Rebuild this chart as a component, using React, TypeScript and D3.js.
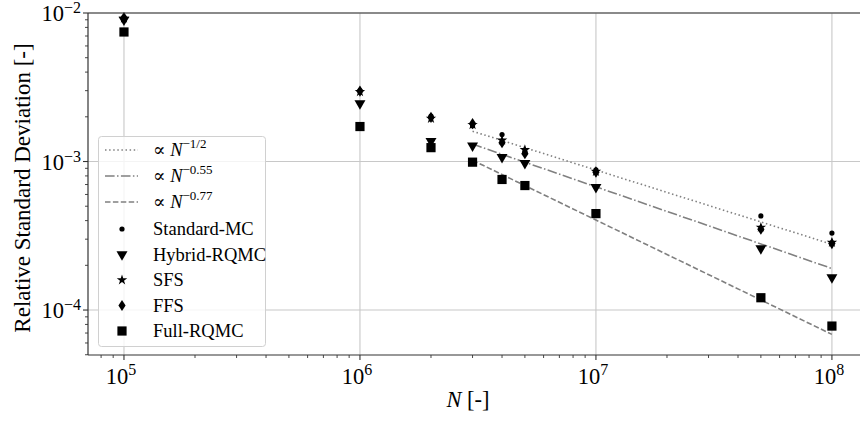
import React from "react";
import * as d3 from "d3";

// ---- data ----
const sampleSizes = [1e5, 1e6, 2e6, 3e6, 4e6, 5e6, 1e7, 5e7, 1e8];
const standardMC = [9.4e-3, 3.0e-3, 2.02e-3, 1.74e-3, 1.52e-3, 1.17e-3, 0.88e-3, 4.3e-4, 3.3e-4];
const hybridRQMC = [9.0e-3, 2.46e-3, 1.37e-3, 1.28e-3, 1.07e-3, 0.974e-3, 0.671e-3, 2.6e-4, 1.66e-4];
const sfs = [9.2e-3, 2.95e-3, 1.95e-3, 1.77e-3, 1.39e-3, 1.2e-3, 0.856e-3, 3.6e-4, 2.85e-4];
const ffs = [9.3e-3, 2.98e-3, 1.98e-3, 1.8e-3, 1.34e-3, 1.13e-3, 0.847e-3, 3.5e-4, 2.8e-4];
const fullRQMC = [7.45e-3, 1.72e-3, 1.24e-3, 0.99e-3, 0.757e-3, 0.689e-3, 0.446e-3, 1.21e-4, 7.8e-5];

// reference power laws  c * N^-a  over [3e6, 1e8]
const refRange = [3e6, 1e8];
const refStartValues = [1.6e-3, 1.31e-3, 1.02e-3];
const refExponents = [0.5, 0.55, 0.77];
const refExpLabels = ["\u22121/2", "\u22120.55", "\u22120.77"];
const refDash = ["1.5,2.6", "9.6,2.4,1.5,2.4", "5.5,2.4"];

const seriesNames = ["Standard-MC", "Hybrid-RQMC", "SFS", "FFS", "Full-RQMC"];
const seriesValues = [standardMC, hybridRQMC, sfs, ffs, fullRQMC];
const seriesMarkers = ["dot", "tri", "star", "thin", "square"];

const xMajor = [1e5, 1e6, 1e7, 1e8];
const xMajorExp = ["5", "6", "7", "8"];
const yMajor = [1e-4, 1e-3, 1e-2];
const yMajorExp = ["\u22124", "\u22123", "\u22122"];

const FONT = "'Liberation Serif', 'DejaVu Serif', serif";

function Marker({ kind, x, y }: { kind: string; x: number; y: number }) {
  if (kind === "dot") return <circle cx={x} cy={y} r={2.6} fill="#000" />;
  if (kind === "square") return <rect x={x - 4.6} y={y - 4.6} width={9.2} height={9.2} fill="#000" />;
  if (kind === "tri") {
    const p = d3.symbol(d3.symbolTriangle, 52)()!;
    return <path d={p} transform={`translate(${x},${y}) rotate(180)`} fill="#000" />;
  }
  if (kind === "star") {
    const p = d3.symbol(d3.symbolStar, 34)()!;
    return <path d={p} transform={`translate(${x},${y})`} fill="#000" />;
  }
  // thin diamond
  return <path d={`M${x},${y - 5.6}L${x + 3.6},${y}L${x},${y + 5.6}L${x - 3.6},${y}Z`} fill="#000" />;
}

export default function App() {
  const L = 88, T = 13, B = 355, R = 870;
  const x = d3.scaleLog().domain([7.04e4, 1.45e8]).range([L, R]);
  const y = d3.scaleLog().domain([4.98e-5, 1e-2]).range([B, T]);

  const xMinor: number[] = [];
  for (let e = 4; e <= 8; e++) for (let k = 2; k <= 9; k++) {
    const v = k * Math.pow(10, e);
    if (v >= 7.04e4 && v <= 1.45e8) xMinor.push(v);
  }
  const yMinor: number[] = [];
  for (let e = -5; e <= -3; e++) for (let k = 2; k <= 9; k++) {
    const v = k * Math.pow(10, e);
    if (v >= 4.98e-5 && v <= 1e-2) yMinor.push(v);
  }

  const refPath = (j: number) =>
    d3.line<number>()
      .x((n) => x(n))
      .y((n) => y(refStartValues[j] * Math.pow(n / refRange[0], -refExponents[j])))(refRange)!;

  const spine = "#333";
  const grid = "#c8c8c8";

  // legend
  const lgX = 98.5, lgY = 136.5, lgW = 167, lgH = 210;
  const rowY = [150, 176, 202, 229, 254.5, 280, 305.5, 331];

  return (
    <svg width={860} height={421} style={{ position: "absolute", left: 0, top: 0, background: "#fff" }}
      fontFamily={FONT}>
      <rect x={0} y={0} width={860} height={421} fill="#fff" />
      {/* grid */}
      {xMajor.map((v) => (
        <line key={"gx" + v} x1={x(v)} x2={x(v)} y1={T} y2={B} stroke={grid} strokeWidth={1.1} />
      ))}
      {yMajor.map((v) => (
        <line key={"gy" + v} x1={L} x2={R} y1={y(v)} y2={y(v)} stroke={grid} strokeWidth={1.1} />
      ))}

      {/* reference lines */}
      {refStartValues.map((_, j) => (
        <path key={"ref" + j} d={refPath(j)} fill="none" stroke="#808080" strokeWidth={1.6}
          strokeDasharray={refDash[j]} />
      ))}

      {/* series */}
      {seriesValues.map((vals, s) =>
        vals.map((v, i) => (
          <Marker key={s + "-" + i} kind={seriesMarkers[s]} x={x(sampleSizes[i])} y={y(v)} />
        ))
      )}

      {/* spines */}
      <line x1={L} x2={L} y1={T} y2={B} stroke={spine} strokeWidth={1.2} />
      <line x1={L} x2={R} y1={B} y2={B} stroke={spine} strokeWidth={1.2} />
      <line x1={L} x2={R} y1={T} y2={T} stroke={spine} strokeWidth={1.2} />

      {/* x ticks */}
      {xMajor.map((v, i) => (
        <g key={"xt" + v}>
          <line x1={x(v)} x2={x(v)} y1={B} y2={B + 5} stroke={spine} strokeWidth={1.1} />
          <text x={x(v) - 3} y={384} textAnchor="middle" fontSize={22.5} fill="#000">
            10<tspan dy={-9} fontSize={16}>{xMajorExp[i]}</tspan>
          </text>
        </g>
      ))}
      {xMinor.map((v) => (
        <line key={"xm" + v} x1={x(v)} x2={x(v)} y1={B} y2={B + 3} stroke={spine} strokeWidth={0.9} />
      ))}

      {/* y ticks */}
      {yMajor.map((v, i) => (
        <g key={"yt" + v}>
          <line x1={L - 5} x2={L} y1={y(v)} y2={y(v)} stroke={spine} strokeWidth={1.1} />
          <text x={81} y={y(v) + 8} textAnchor="end" fontSize={22.5} fill="#000">
            10<tspan dy={-8} fontSize={16}>{yMajorExp[i]}</tspan>
          </text>
        </g>
      ))}
      {yMinor.map((v) => (
        <line key={"ym" + v} x1={L - 3} x2={L} y1={y(v)} y2={y(v)} stroke={spine} strokeWidth={0.9} />
      ))}

      {/* axis labels */}
      <text x={468} y={407} textAnchor="middle" fontSize={22.5} fill="#000">
        <tspan fontStyle="italic">N</tspan> [-]
      </text>
      <text transform={`translate(30,188) rotate(-90)`} textAnchor="middle" fontSize={23} fill="#000">
        Relative Standard Deviation [-]
      </text>

      {/* legend */}
      <rect x={lgX} y={lgY} width={lgW} height={lgH} rx={3} fill="#fff" fillOpacity={0.8} stroke="#d0d0d0" strokeWidth={1} />
      {refStartValues.map((_, j) => (
        <g key={"lr" + j}>
          <line x1={105} x2={138} y1={rowY[j]} y2={rowY[j]} stroke="#808080" strokeWidth={1.6} strokeDasharray={refDash[j]} />
          <text x={153} y={rowY[j] + 6} fontSize={18.5} fill="#000">
            {"\u221D "}<tspan fontStyle="italic">N</tspan>
            <tspan dy={-8} fontSize={13}>{refExpLabels[j]}</tspan>
          </text>
        </g>
      ))}
      {seriesNames.map((name, s) => (
        <g key={"ls" + s}>
          <Marker kind={seriesMarkers[s]} x={122} y={rowY[s + 3]} />
          <text x={153} y={rowY[s + 3] + 6} fontSize={18.5} fill="#000">{name}</text>
        </g>
      ))}
    </svg>
  );
}
